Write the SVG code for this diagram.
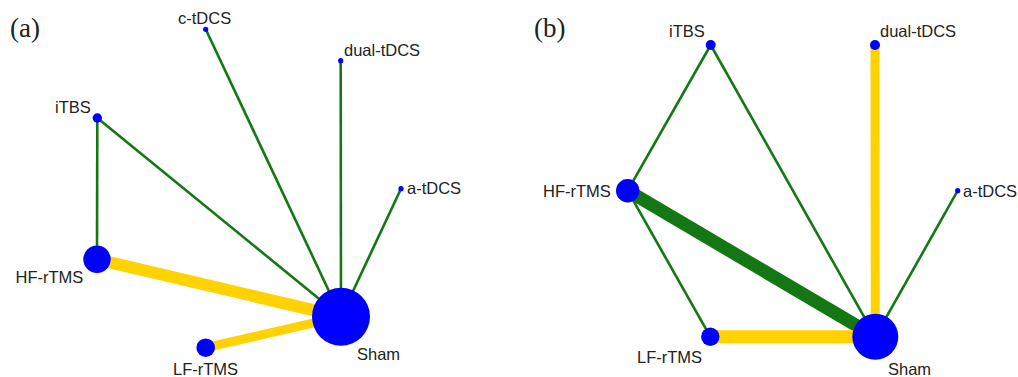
<svg xmlns="http://www.w3.org/2000/svg" width="1018" height="377" viewBox="0 0 1018 377">
<style>
.g{stroke:#137813;stroke-width:2.6;fill:none}
.gw{stroke:#137813;stroke-width:13;fill:none}
.y{stroke:#FFD200;fill:none}
.n{fill:#0000FF}
.t{font-family:"Liberation Sans",Arial,sans-serif;font-size:16.5px;fill:#222}
.p{font-family:"Liberation Serif","Times New Roman",serif;font-size:27px;fill:#222}
</style>
<rect width="1018" height="377" fill="#fff"/>
<text class="p" x="10" y="37">(a)</text>
<text class="p" x="534" y="37">(b)</text>
<g id="connectors-a">
<line class="g" x1="205.7" y1="29.3" x2="341" y2="316.7"/>
<line class="g" x1="340.7" y1="60.7" x2="341" y2="316.7"/>
<line class="g" x1="401" y1="188.7" x2="341" y2="316.7"/>
<line class="g" x1="97.3" y1="118" x2="341" y2="316.7"/>
<line class="g" x1="97.3" y1="118" x2="97" y2="259.3"/>
<line class="y" stroke-width="12" x1="97" y1="259.3" x2="341" y2="316.7"/>
<line class="y" stroke-width="9" x1="205.7" y1="347.7" x2="341" y2="316.7"/>
</g>
<g id="a-cTDCS"><circle class="n" cx="205.7" cy="29.3" r="2.6"/><text class="t" x="178" y="24">c-tDCS</text></g>
<g id="a-dualTDCS"><circle class="n" cx="340.7" cy="60.7" r="2.6"/><text class="t" x="344" y="56">dual-tDCS</text></g>
<g id="a-iTBS"><circle class="n" cx="97.3" cy="118" r="4.7"/><text class="t" x="55" y="113">iTBS</text></g>
<g id="a-aTDCS"><circle class="n" cx="401" cy="188.7" r="2.6"/><text class="t" x="407" y="194">a-tDCS</text></g>
<g id="a-HFrTMS"><circle class="n" cx="97" cy="259.3" r="13.7"/><text class="t" x="15.5" y="283">HF-rTMS</text></g>
<g id="a-LFrTMS"><circle class="n" cx="205.7" cy="347.7" r="9.3"/><text class="t" x="173" y="375">LF-rTMS</text></g>
<g id="a-Sham"><circle class="n" cx="341" cy="316.7" r="29"/><text class="t" x="357" y="360">Sham</text></g>
<g id="connectors-b">
<line class="g" x1="710.7" y1="45" x2="627.7" y2="190.7"/>
<line class="g" x1="710.7" y1="45" x2="875.3" y2="336.7"/>
<line class="g" x1="627.7" y1="190.7" x2="710.3" y2="336.7"/>
<line class="g" x1="957.7" y1="190.7" x2="875.3" y2="336.7"/>
<line class="gw" x1="627.7" y1="190.7" x2="875.3" y2="336.7"/>
<line class="y" stroke-width="13" x1="710.3" y1="336.7" x2="875.3" y2="336.7"/>
<line class="y" stroke-width="9" x1="875" y1="45" x2="875.3" y2="336.7"/>
</g>
<g id="b-iTBS"><circle class="n" cx="710.7" cy="45" r="5"/><text class="t" x="669" y="37">iTBS</text></g>
<g id="b-dualTDCS"><circle class="n" cx="875" cy="45" r="5"/><text class="t" x="880" y="37">dual-tDCS</text></g>
<g id="b-HFrTMS"><circle class="n" cx="627.7" cy="190.7" r="11.7"/><text class="t" x="543" y="197">HF-rTMS</text></g>
<g id="b-aTDCS"><circle class="n" cx="957.7" cy="190.7" r="2.6"/><text class="t" x="963" y="197">a-tDCS</text></g>
<g id="b-LFrTMS"><circle class="n" cx="710.3" cy="336.7" r="9.2"/><text class="t" x="637" y="363">LF-rTMS</text></g>
<g id="b-Sham"><circle class="n" cx="875.3" cy="336.7" r="23"/><text class="t" x="888" y="375">Sham</text></g>
</svg>
